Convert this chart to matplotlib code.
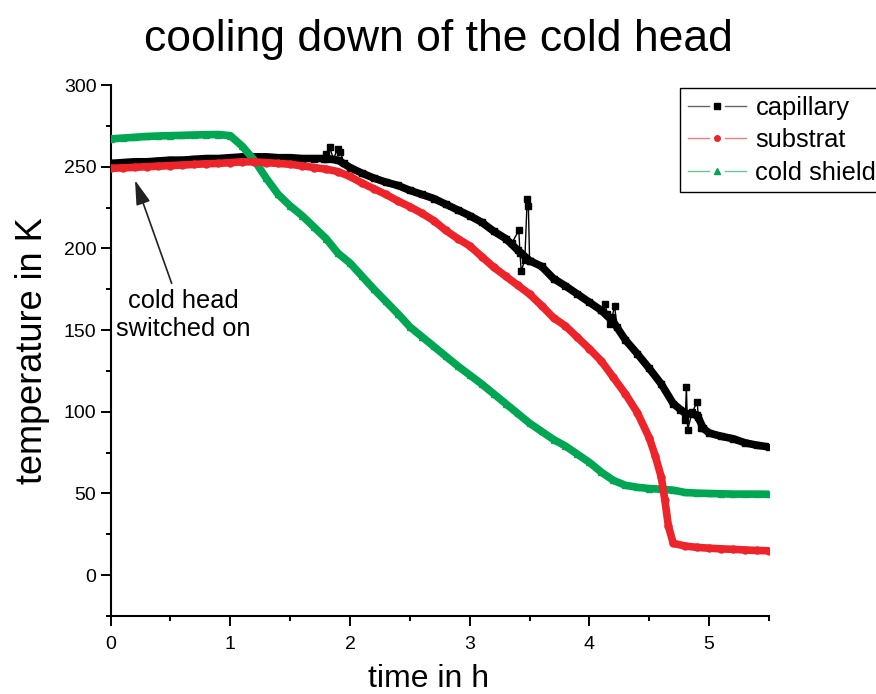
import matplotlib
matplotlib.use("Agg")
import matplotlib.pyplot as plt
from matplotlib.ticker import MultipleLocator
from matplotlib.lines import Line2D
from matplotlib.legend_handler import HandlerBase

plt.rcParams['font.family'] = ['Liberation Sans', 'DejaVu Sans']

# ---- measured temperatures (time in h, temperature in K) ----
capillary_h = [0.0, 0.1, 0.2, 0.3, 0.4, 0.5, 0.6, 0.7, 0.8, 0.9,
               1.0, 1.1, 1.2, 1.3, 1.4, 1.5, 1.6, 1.7, 1.8, 1.9,
               2.0, 2.1, 2.2, 2.3, 2.4, 2.5, 2.6, 2.7, 2.8, 2.9,
               3.0, 3.1, 3.2, 3.3, 3.4, 3.5, 3.6, 3.7, 3.8, 3.9,
               4.0, 4.1, 4.2, 4.3, 4.4, 4.5, 4.6, 4.7, 4.8, 4.9,
               4.95, 5.0, 5.1, 5.2, 5.3, 5.4, 5.5]
capillary_K = [252, 252.5, 253, 253, 253.5, 254, 254, 254.5, 255, 255,
               255.5, 256, 256, 256, 255.5, 255.5, 255, 255, 255, 254,
               249.5, 246, 243, 240.5, 238.5, 235.5, 233, 230.5, 227, 223.5,
               220, 216, 210.5, 206, 199, 192.5, 189, 181.5, 177, 172,
               167, 162, 155, 144, 135.5, 126.5, 117, 105, 99, 98,
               90, 87, 85, 83.5, 81, 79.5, 78.5]

# short sensor glitches of the capillary reading
glitch_h = [[1.78, 1.80, 1.83, 1.86, 1.90, 1.92, 1.95],
            [3.35, 3.41, 3.42, 3.43, 3.46, 3.48, 3.49, 3.50],
            [4.10, 4.13, 4.15, 4.17, 4.19, 4.21, 4.23],
            [4.76, 4.80, 4.81, 4.82, 4.86, 4.90, 4.91, 4.93]]
glitch_K = [[255, 258, 262, 255, 261, 259, 252],
            [203, 211, 197, 186, 193, 230, 226, 192.5],
            [162, 166, 160, 154, 158, 165, 152],
            [101, 95, 115, 89, 100, 106, 97, 90]]

substrat_h = [0.0, 0.1, 0.2, 0.3, 0.4, 0.5, 0.6, 0.7, 0.8, 0.9,
              1.0, 1.1, 1.2, 1.3, 1.4, 1.5, 1.6, 1.7, 1.8, 1.9,
              2.0, 2.1, 2.2, 2.3, 2.4, 2.5, 2.6, 2.7, 2.8, 2.9,
              3.0, 3.1, 3.2, 3.3, 3.4, 3.5, 3.6, 3.7, 3.8, 3.9,
              4.0, 4.1, 4.2, 4.3, 4.4, 4.5, 4.55, 4.6, 4.63, 4.66,
              4.7, 4.8, 4.9, 5.0, 5.1, 5.2, 5.3, 5.4, 5.5]
substrat_K = [249, 249.3, 249.6, 250, 250.3, 250.7, 251, 251.4, 251.8, 252,
              252.5, 253, 253, 252.5, 252, 251.5, 250.5, 249.5, 248.5, 247,
              244, 240, 236.5, 233, 229, 225.5, 221.5, 217, 211, 206,
              201.5, 195, 188.5, 183, 177.5, 172, 165, 157.5, 152.5, 145.5,
              138.5, 131, 121, 111, 99.5, 84, 73, 60, 46, 30,
              19.5, 17.8, 17, 16.5, 16.1, 15.8, 15.4, 15.1, 14.9]

shield_h = [0.0, 0.1, 0.2, 0.3, 0.4, 0.5, 0.6, 0.7, 0.8, 0.9,
            1.0, 1.1, 1.2, 1.3, 1.4, 1.5, 1.6, 1.7, 1.8, 1.9,
            2.0, 2.1, 2.2, 2.3, 2.4, 2.5, 2.6, 2.7, 2.8, 2.9,
            3.0, 3.1, 3.2, 3.3, 3.4, 3.5, 3.6, 3.7, 3.8, 3.9,
            4.0, 4.1, 4.2, 4.3, 4.4, 4.5, 4.6, 4.7, 4.8, 4.9,
            5.0, 5.1, 5.2, 5.3, 5.4, 5.5]
shield_K = [267, 267.5, 268, 268.5, 268.8, 269, 269.2, 269.4, 269.6, 269.7,
            269, 262.5, 254, 243, 233, 226, 220, 213, 206, 197,
            191, 183, 175, 167.5, 160, 152, 146, 140, 134, 128,
            122.5, 117, 111, 105, 99, 93, 88, 83, 79, 74,
            69, 63, 58, 55, 53.8, 53, 52.6, 52, 50.6, 50.2,
            50, 49.8, 49.6, 49.6, 49.6, 49.5]

labels = ['capillary', 'substrat', 'cold shield']
colors = ['#000000', '#ED252B', '#00A651']
markers = ['s', 'o', '^']


class GapLineHandler(HandlerBase):
    """Legend key drawn as: line segment, marker, line segment."""

    def create_artists(self, legend, orig_handle, xdescent, ydescent,
                       width, height, fontsize, trans):
        y = height / 2 - ydescent
        x0, x1 = -xdescent, width - xdescent
        xm = (x0 + x1) / 2
        gap = 0.13 * width
        lc = orig_handle.get_color()
        segs = [Line2D([x0, xm - gap], [y, y], color=lc, lw=1.0),
                Line2D([xm + gap, x1], [y, y], color=lc, lw=1.0)]
        mk = Line2D([xm], [y], ls='none', marker=orig_handle.get_marker(),
                    ms=orig_handle.get_markersize(),
                    color=orig_handle.get_markerfacecolor())
        arts = segs + [mk]
        for a in arts:
            a.set_transform(trans)
        return arts


fig = plt.figure(figsize=(8.76, 6.94), dpi=100)
ax = fig.add_axes([110.6 / 876, 1 - 616 / 694, (769 - 110.6) / 876, (616 - 85) / 694])

band = dict(lw=5.5, ms=5, solid_joinstyle='round', solid_capstyle='round')
ax.plot(capillary_h, capillary_K, color=colors[0], marker=markers[0], zorder=3, **band)
for gh, gk in zip(glitch_h, glitch_K):
    ax.plot(gh, gk, color=colors[0], marker='s', lw=1.0, ms=4.5, zorder=3)
ax.plot(shield_h, shield_K, color=colors[2], marker=markers[2], zorder=4, **band)
ax.plot(substrat_h, substrat_K, color=colors[1], marker=markers[1], zorder=5, **band)

ax.set_xlim(0, 5.5)
ax.set_ylim(-25, 300)
ax.xaxis.set_major_locator(MultipleLocator(1))
ax.xaxis.set_minor_locator(MultipleLocator(0.5))
ax.yaxis.set_major_locator(MultipleLocator(50))
ax.yaxis.set_minor_locator(MultipleLocator(25))

for side in ('top', 'right'):
    ax.spines[side].set_visible(False)
for side in ('left', 'bottom'):
    ax.spines[side].set_linewidth(1.5)

ax.tick_params(which='major', direction='out', length=7.2, width=1.4,
               labelsize=14, pad=3)
ax.tick_params(axis='x', which='major', pad=7)
ax.tick_params(which='minor', direction='out', length=3.6, width=1.4)

ax.set_xlabel('time in h', fontsize=23, labelpad=8)
ax.xaxis.label.set_x(0.483)
ax.set_ylabel('temperature in K', fontsize=26, labelpad=10)
fig.suptitle('cooling down of the cold head', fontsize=32, y=0.972)

ax.annotate('', xy=(0.204, 241.7), xytext=(0.51, 178.6),
            arrowprops=dict(arrowstyle='-|>,head_length=0.75,head_width=0.22',
                            color='#222222', lw=1.2, shrinkA=0, shrinkB=0,
                            mutation_scale=20))
ax.text(0.61, 159, 'cold head\nswitched on', fontsize=18.3, ha='center',
        va='center', linespacing=1.2)

handles = []
for c, m in zip(colors, markers):
    rgb = matplotlib.colors.to_rgb(c)
    handles.append(Line2D([], [], color=(*rgb, 0.6), lw=1.0, marker=m, ms=4,
                          markerfacecolor=c, markeredgecolor=c))
leg = fig.legend(handles, labels, loc='upper left',
                 bbox_to_anchor=(680 / 876, 1 - 88 / 694),
                 bbox_transform=fig.transFigure, fontsize=18.4, numpoints=1,
                 handlelength=2.3, handletextpad=0.35, borderpad=0.3,
                 labelspacing=0.33, borderaxespad=0, fancybox=False,
                 framealpha=1, edgecolor='black',
                 handler_map={Line2D: GapLineHandler()})
leg.get_frame().set_linewidth(1.0)

fig.savefig('out.png', dpi=100)
